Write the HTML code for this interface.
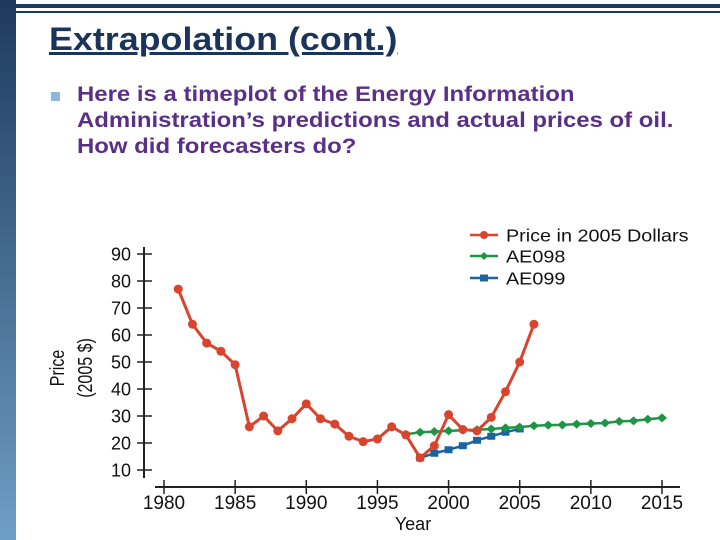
<!DOCTYPE html>
<html><head><meta charset="utf-8"><style>
body{margin:0;width:720px;height:540px;overflow:hidden;background:#fff;font-family:"Liberation Sans",Arial,sans-serif;position:relative}
.strip{position:absolute;left:0;top:0;width:16px;height:540px;background:linear-gradient(#1d3a5e,#6f9ec4)}
.l1{position:absolute;left:16px;top:4px;width:704px;height:4px;background:#1d3a5e}
.l2{position:absolute;left:16px;top:11px;width:704px;height:2px;background:#1d3a5e}
h1{position:absolute;left:49px;top:21px;margin:0;font-size:32px;font-weight:bold;color:#1b3459;text-decoration:underline;transform-origin:0 0;transform:scaleX(1.12);white-space:nowrap}
.bul{position:absolute;left:51px;top:92px;width:9px;height:9px;background:#8fb7dc}
.txt{position:absolute;left:77px;top:82px;font-size:21px;font-weight:bold;color:#5a2f86;line-height:26px;transform-origin:0 0;transform:scaleX(1.14);white-space:nowrap}
</style></head><body>
<div class="strip"></div>
<div class="l1"></div>
<div class="l2"></div>
<h1>Extrapolation (cont.)</h1>
<div class="bul"></div>
<div class="txt">Here is a timeplot of the Energy Information<br>Administration’s predictions and actual prices of oil.<br>How did forecasters do?</div>
<svg id="chart" width="720" height="540" style="position:absolute;left:0;top:0"></svg>
<script>
const priceYears=[1981,1982,1983,1984,1985,1986,1987,1988,1989,1990,1991,1992,1993,1994,1995,1996,1997,1998,1999,2000,2001,2002,2003,2004,2005,2006];
const priceVals=[77,64,57,54,49,26,30,24.5,29,34.5,29,27,22.5,20.5,21.5,26,23,14.5,19,30.5,25,24.5,29.5,39,50,64];
const ae98Years=[1997,1998,1999,2000,2001,2002,2003,2004,2005,2006,2007,2008,2009,2010,2011,2012,2013,2014,2015];
const ae98Vals=[23.2,24,24.2,24.5,24.7,24.9,25.2,25.6,25.9,26.4,26.6,26.7,27,27.2,27.4,28,28.2,28.8,29.3];
const ae99Years=[1998,1999,2000,2001,2002,2003,2004,2005];
const ae99Vals=[14.5,16.2,17.5,19,21,22.5,24,25.2];
const yTicks=[10,20,30,40,50,60,70,80,90];
const xTicks=[1980,1985,1990,1995,2000,2005,2010,2015];
const NS='http://www.w3.org/2000/svg';
const svg=document.getElementById('chart');
const X=y=>164+(y-1980)*(662-164)/35;
const Y=v=>470-(v-10)*(216/80);
function mk(t,a,p){const e=document.createElementNS(NS,t);for(const k in a)e.setAttribute(k,a[k]);(p||svg).appendChild(e);return e;}
let e=mk('line',{x1:144,y1:247,x2:144,y2:478,stroke:'#222','stroke-width':2});


e=mk('line',{x1:155,y1:487,x2:680,y2:487,stroke:'#222','stroke-width':2});


yTicks.forEach(v=>{
 e=mk('line',{x1:137,x2:152,y1:Y(v),y2:Y(v),stroke:'#222','stroke-width':1.5});
 
 
 e=mk('text',{x:131,y:Y(v)+6.5,'text-anchor':'end','font-size':18,fill:'#111'});e.textContent=v;
 
 
});
xTicks.forEach(v=>{
 e=mk('line',{x1:X(v),x2:X(v),y1:480,y2:494,stroke:'#222','stroke-width':1.5});
 
 
 e=mk('text',{x:X(v),y:509,'text-anchor':'middle','font-size':19,fill:'#111'});e.textContent=v;
 
 
});
e=mk('text',{x:413,y:530,'text-anchor':'middle','font-size':18,fill:'#111'});e.textContent='Year';


e=mk('text',{x:0,y:0,'text-anchor':'middle','font-size':20,fill:'#111',transform:'translate(64,368) rotate(-90) scale(0.8,1)'});e.textContent='Price';


e=mk('text',{x:0,y:0,'text-anchor':'middle','font-size':20,fill:'#111',transform:'translate(92,368) rotate(-90) scale(0.8,1)'});e.textContent='(2005 $)';


function series(xs,vs,col,shape,name){
 const g=mk('g',{});
 
 
 mk('polyline',{points:xs.map((x,i)=>X(x)+','+Y(vs[i])).join(' '),fill:'none',stroke:col,'stroke-width':shape==='c'?3:2.5,'stroke-linejoin':'round'},g);
 xs.forEach((x,i)=>{
  let m;
  if(shape==='c')m=mk('circle',{cx:X(x),cy:Y(vs[i]),r:4.5,fill:col},g);
  else if(shape==='d')m=mk('polygon',{points:`${X(x)-5},${Y(vs[i])} ${X(x)},${Y(vs[i])-4.5} ${X(x)+5},${Y(vs[i])} ${X(x)},${Y(vs[i])+4.5}`,fill:col},g);
  else m=mk('rect',{x:X(x)-4,y:Y(vs[i])-3.5,width:8,height:7,fill:col},g);
  
  
 });
}
series(ae99Years,ae99Vals,'#1a64a0','s','ae099-series');
series(ae98Years,ae98Vals,'#1e9444','d','ae098-series');
series(priceYears,priceVals,'#d8442e','c','price-series');
const legend=[['Price in 2005 Dollars','#d8442e','c',235],['AE098','#1e9444','d',256],['AE099','#1a64a0','s',278]];
legend.forEach(([t,c,s,y])=>{
 const g=mk('g',{});
 
 
 mk('line',{x1:470,x2:498,y1:y,y2:y,stroke:c,'stroke-width':2.5},g);
 if(s==='c')mk('circle',{cx:484,cy:y,r:4,fill:c},g);
 else if(s==='d')mk('polygon',{points:`480,${y} 484,${y-4} 488,${y} 484,${y+4}`,fill:c},g);
 else mk('rect',{x:480,y:y-3.5,width:8,height:7,fill:c},g);
 const tx=mk('text',{x:506,y:y+6.5,'font-size':18,fill:'#111',transform:`translate(506,0) scale(1.1,1) translate(-506,0)`},g);tx.textContent=t;
});
</script>
</body></html>
